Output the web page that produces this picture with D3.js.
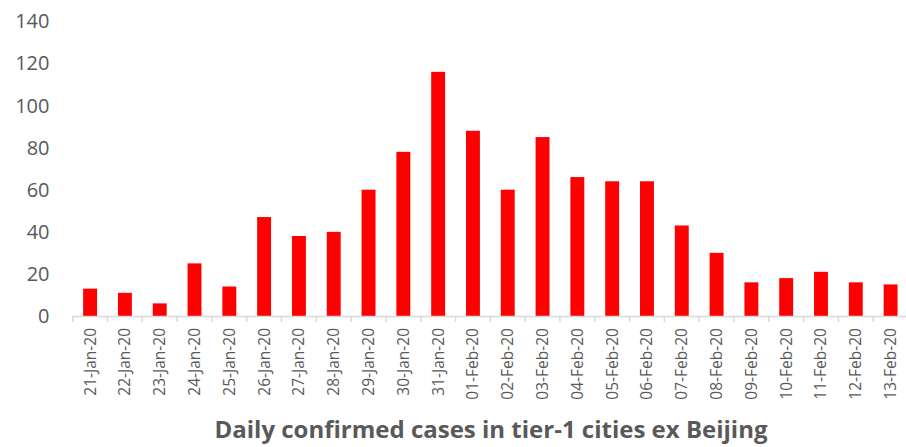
<!DOCTYPE html>
<html>
<head>
<meta charset="utf-8">
<script src="https://cdn.jsdelivr.net/npm/d3@7.9.0/dist/d3.min.js"></script>
<style>
  body { margin: 0; background: #fff; }
  svg { display: block; font-family: 'Open Sans', 'Liberation Sans', sans-serif; }
</style>
</head>
<body>
<svg id="chart" width="906" height="447"></svg>
<script>
const dates = [
  '21-Jan-20', '22-Jan-20', '23-Jan-20', '24-Jan-20', '25-Jan-20', '26-Jan-20',
  '27-Jan-20', '28-Jan-20', '29-Jan-20', '30-Jan-20', '31-Jan-20', '01-Feb-20',
  '02-Feb-20', '03-Feb-20', '04-Feb-20', '05-Feb-20', '06-Feb-20', '07-Feb-20',
  '08-Feb-20', '09-Feb-20', '10-Feb-20', '11-Feb-20', '12-Feb-20', '13-Feb-20'
];
const cases = [13, 11, 6, 25, 14, 47, 38, 40, 60, 78, 116, 88, 60, 85, 66, 64, 64, 43, 30, 16, 18, 21, 16, 15];
const yTicks = [0, 20, 40, 60, 80, 100, 120, 140];
const title = 'Daily confirmed cases in tier-1 cities ex Beijing';

const svg = d3.select('#chart');
const textColor = '#595959';

const x = d3.scaleBand().domain(dates).range([72.7, 908]).paddingInner(0.6).paddingOuter(0.3);
const y = d3.scaleLinear().domain([0, 140]).range([316, 21.3]);

// bars
svg.append('g')
  .selectAll('rect')
  .data(cases)
  .join('rect')
  .attr('x', (d, i) => x(dates[i]))
  .attr('y', (d) => y(d))
  .attr('width', x.bandwidth())
  .attr('height', (d) => y(0) - y(d))
  .attr('fill', '#ff0000');

// y labels (no axis line)
svg.append('g')
  .selectAll('text')
  .data(yTicks)
  .join('text')
  .attr('x', 49.5)
  .attr('y', (d) => y(d))
  .attr('dy', '0.35em')
  .attr('text-anchor', 'end')
  .attr('fill', textColor)
  .attr('font-size', 20)
  .text((d) => d);

// x axis: line + ticks at band boundaries
const step = x.step();
const x0 = x.range()[0];
const gx = svg.append('g');
gx.append('line')
  .attr('x1', x0).attr('x2', 908)
  .attr('y1', y(0) + 0.5).attr('y2', y(0) + 0.5)
  .attr('stroke', '#d9d9d9').attr('stroke-width', 1.5);
gx.selectAll('line.tick')
  .data(d3.range(dates.length + 1))
  .join('line')
  .attr('class', 'tick')
  .attr('x1', (i) => x0 + i * step).attr('x2', (i) => x0 + i * step)
  .attr('y1', y(0)).attr('y2', y(0) + 6)
  .attr('stroke', '#d9d9d9').attr('stroke-width', 1.5);

gx.selectAll('text')
  .data(dates)
  .join('text')
  .attr('transform', (d) => `translate(${x(d) + x.bandwidth() / 2},${y(0) + 12}) rotate(-90)`)
  .attr('text-anchor', 'end')
  .attr('dy', '0.35em')
  .attr('fill', textColor)
  .attr('font-size', 15.5)
  .text((d) => d);

// title
svg.append('text')
  .attr('x', 491)
  .attr('y', 438)
  .attr('text-anchor', 'middle')
  .attr('fill', textColor)
  .attr('font-size', 24)
  .attr('font-weight', 'bold')
  .text(title);
</script>
</body>
</html>
